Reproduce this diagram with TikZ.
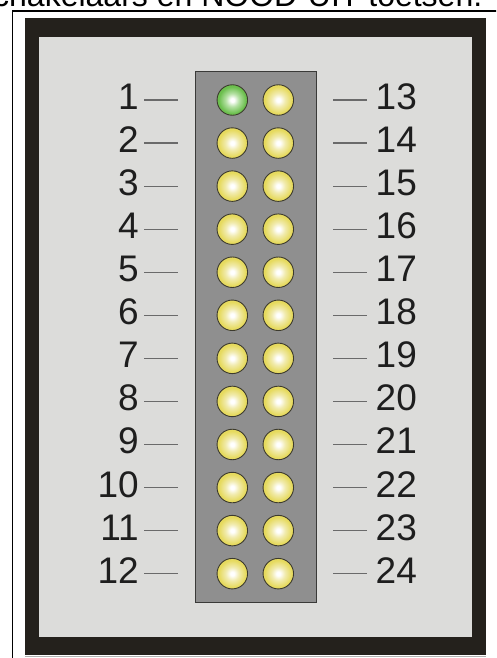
\documentclass[tikz,border=0pt]{standalone}
\usepackage{fontspec}
\setmainfont{Liberation Sans}
\definecolor{framedark}{HTML}{24211C}
\definecolor{panelbg}{HTML}{DCDCDA}
\definecolor{ledpanel}{HTML}{8F8F8F}
\definecolor{panelline}{HTML}{3A3A38}
\definecolor{ledline}{HTML}{3C3A2E}
\definecolor{ledY}{HTML}{E6DA5E}
\definecolor{ledYmid}{HTML}{F1EBAE}
\definecolor{ledG}{HTML}{6CBF4E}
\definecolor{ledGmid}{HTML}{B3E0A2}
\definecolor{leadgrey}{HTML}{6A6A6A}
\definecolor{numcol}{HTML}{1E1E1E}
\pgfdeclareradialshading{ledyellow}{\pgfpoint{0bp}{0bp}}{color(0bp)=(white); color(3bp)=(white); color(11bp)=(ledYmid); color(22bp)=(ledY); color(50bp)=(ledY)}
\pgfdeclareradialshading{ledgreen}{\pgfpoint{0bp}{0bp}}{color(0bp)=(white); color(3bp)=(white); color(11bp)=(ledGmid); color(22bp)=(ledG); color(50bp)=(ledG)}
\tikzset{
  ledbase/.style={circle, draw=ledline, line width=0.9pt, minimum size=30.5pt, inner sep=0pt, shade},
  ledy/.style={ledbase, shading=ledyellow},
  ledg/.style={ledbase, shading=ledgreen},
  numlab/.style={inner sep=0pt, text=numcol, font=\fontsize{37}{37}\selectfont},
  leader/.style={draw=leadgrey, line width=1.2pt},
  titletext/.style={inner sep=0pt, text=black, font=\fontsize{32}{32}\selectfont}
}
\begin{document}
\begin{tikzpicture}[x=1pt,y=-1pt]
\useasboundingbox (0,0) rectangle (496,658);
\clip (0,0) rectangle (496,658);
\fill[white] (0,0) rectangle (496,658);
% title (cut at top)
\node[titletext, anchor=base west] (title) at (-23,7) {schakelaars en NOOD-UIT toetsen.};
% outer thin frame
\draw[black, line width=1.6pt] (12.5,670) -- (12.5,10.8) -- (510,10.8);
% dark frame and inner panel
\fill[framedark] (25,18) rectangle (486,655);
\draw[gray!60, line width=0.8pt] (25,656) -- (486,656);
\fill[panelbg] (39,37) rectangle (472,637);
% LED holder
\node[draw=panelline, fill=ledpanel, line width=1pt, inner sep=0pt, minimum width=120.5pt, minimum height=530.7pt, anchor=north west] (holder) at (195.3,71.3) {};
% LEDs, labels and leaders
\foreach \i in {1,...,12}{
  \pgfmathsetmacro{\yy}{100+43.06*(\i-1)}
  \pgfmathtruncatemacro{\j}{\i+12}
  \ifnum\i=1
    \node[ledg] (la\i) at (232.3,\yy) {};
  \else
    \node[ledy] (la\i) at (232.3,\yy) {};
  \fi
  \node[ledy] (lb\i) at (278.3,\yy) {};
  \node[numlab, anchor=base east] (nl\i) at (139,\yy+9.5) {\i};
  \node[numlab, anchor=base west] (nr\i) at (375.5,\yy+9.5) {\j};
  \coordinate (dla\i) at (144,\yy);
  \coordinate (dlb\i) at (177.5,\yy);
  \coordinate (dra\i) at (333,\yy);
  \coordinate (drb\i) at (366.5,\yy);
  \draw[leader] (dla\i) -- (dlb\i);
  \draw[leader] (dra\i) -- (drb\i);
}
\end{tikzpicture}
\end{document}
